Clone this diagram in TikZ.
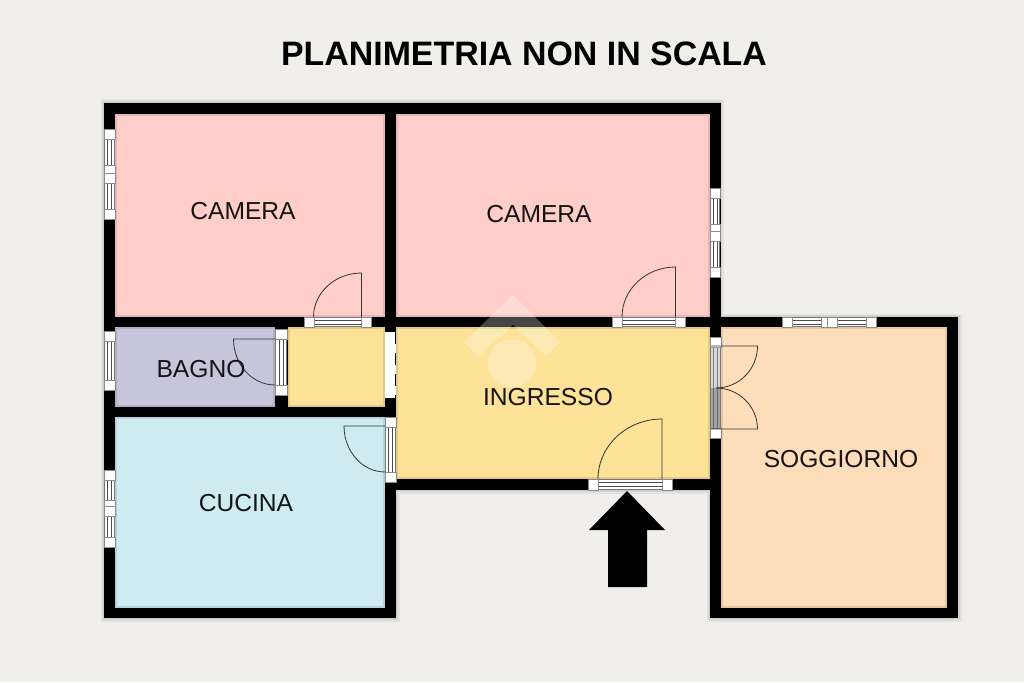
\documentclass[tikz,border=0pt]{standalone}
\usepackage{fontspec}
\setmainfont{Liberation Sans}
\definecolor{bgc}{HTML}{F0EFEB}
\definecolor{pinkc}{HTML}{FFCEC9}
\definecolor{lilac}{HTML}{C6C5DC}
\definecolor{cyanc}{HTML}{CDEBF0}
\definecolor{yellowc}{HTML}{FDE297}
\definecolor{peachc}{HTML}{FEDDBB}
\definecolor{winline}{HTML}{777777}
\tikzset{
  wall/.style={fill=black,draw=none},
  room/.style={draw=black,draw opacity=0.10,line width=3pt},
  wincap/.style={fill=white,draw=black!45,line width=0.5pt},
  sash/.style={draw=winline,line width=0.6pt},
  sashin/.style={draw=black!70,line width=0.7pt},
  leaf/.style={draw=black!80,line width=0.8pt},
  halo/.style={draw=black,draw opacity=0.05},
  roomlabel/.style={font=\fontsize{24.6}{28}\selectfont,text=black!92,inner sep=0pt},
}
\newcommand{\hwin}[4]{%
  \fill[white] (#1,#3) rectangle (#2,#4);
  \draw[sash] (#1,#3+0.5) -- (#2,#3+0.5);
  \draw[sashin] (#1,{(#3+#4)/2-2}) -- (#2,{(#3+#4)/2-2});
  \draw[sashin] (#1,{(#3+#4)/2+2}) -- (#2,{(#3+#4)/2+2});
  \draw[sash] (#1,#4-0.5) -- (#2,#4-0.5);
  \draw[wincap] (#1,#3) rectangle ++(10,#4-#3);
  \draw[wincap] (#2-10,#3) rectangle (#2,#4);
}
\newcommand{\vwin}[4]{%
  \fill[white] (#3,#1) rectangle (#4,#2);
  \draw[sash] (#3+0.5,#1) -- (#3+0.5,#2);
  \draw[sashin] ({(#3+#4)/2-2},#1) -- ({(#3+#4)/2-2},#2);
  \draw[sashin] ({(#3+#4)/2+2},#1) -- ({(#3+#4)/2+2},#2);
  \draw[sash] (#4-0.5,#1) -- (#4-0.5,#2);
  \draw[wincap] (#3,#1) rectangle (#4,#1+10);
  \draw[wincap] (#3,#2-10) rectangle (#4,#2);
}
\begin{document}
\begin{tikzpicture}[x=1pt,y=-1pt]
\useasboundingbox (0,0) rectangle (1024,682);
\fill[bgc] (0,0) rectangle (1024,682);
% soft halo outside the walls
\foreach \w in {7,4,2}{
  \draw[halo,line width=\w pt] (104,103) -- (720,103) -- (720,317) -- (958,317) -- (958,618) -- (710,618) -- (710,490) -- (396,490) -- (396,618) -- (104,618) -- cycle;
}
% rooms
\fill[pinkc] (110,110) rectangle (390,320);
\fill[pinkc] (390,110) rectangle (715,320);
\fill[lilac] (110,322) rectangle (280,412);
\fill[yellowc] (280,322) rectangle (390,412);
\fill[cyanc] (110,412) rectangle (390,612);
\fill[yellowc] (390,322) rectangle (715,485);
\fill[peachc] (715,322) rectangle (952,612);
% soft room edges
\draw[room] (115.5,114.5) rectangle (384.5,316.5);
\draw[room] (396.5,114.5) rectangle (709.5,316.5);
\draw[room] (115.5,327.5) rectangle (274,406.5);
\draw[room] (288.5,327.5) rectangle (384.5,406.5);
\draw[room] (115.5,417.5) rectangle (384.5,607.5);
\draw[room] (396.5,327.5) rectangle (709.5,478.5);
\draw[room] (721.5,327.5) rectangle (946.5,607.5);
% walls
\path[wall] (104,103) rectangle (720,114);
\path[wall] (104,103) rectangle (115,618);
\path[wall] (104,608) rectangle (396,618);
\path[wall] (385,103) rectangle (396,618);
\path[wall] (710,103) rectangle (721,618);
\path[wall] (104,317) rectangle (958,327);
\path[wall] (104,407) rectangle (396,417);
\path[wall] (396,479) rectangle (721,490);
\path[wall] (275,327) rectangle (288,417);
\path[wall] (947,317) rectangle (958,618);
\path[wall] (710,608) rectangle (958,618);
% windows, left
\vwin{129}{175}{104}{115}
\vwin{173}{219}{104}{115}
\vwin{331}{390}{104}{115}
\vwin{470}{510}{104}{115}
\vwin{506}{547}{104}{115}
% windows, right of second bedroom
\vwin{188}{234}{710}{720}
\vwin{231}{277}{710}{720}
% living room window
\hwin{782}{831}{317}{327}
\hwin{827}{876}{317}{327}
% doors
\hwin{304}{371}{317}{327}
\draw[leaf] (361.5,317) -- (361.5,273) arc[start angle=90,end angle=180,x radius=48,y radius=-44];
\hwin{612}{685}{317}{327}
\draw[leaf] (675.5,317) -- (675.5,267) arc[start angle=90,end angle=180,x radius=53.5,y radius=-50];
\hwin{588}{672}{479}{490}
\draw[leaf] (662,479) -- (662,419) arc[start angle=90,end angle=180,x radius=64,y radius=-60];
\vwin{329}{395}{275}{287}
\draw[leaf] (275,339) -- (233.5,339) arc[start angle=180,end angle=270,x radius=41.5,y radius=-46];
\vwin{417}{482}{385}{396}
\draw[leaf] (385,426) -- (344,426) arc[start angle=180,end angle=270,x radius=41,y radius=-46];
% double door
\vwin{337}{438}{710}{721}
\fill[black!30,opacity=0.5] (711,347) rectangle (720,388);
\fill[black!55,opacity=0.65] (711,388) rectangle (720,429);
\draw[leaf] (711,346) -- (757.5,346) arc[start angle=0,end angle=-90,x radius=41.5,y radius=-42];
\draw[leaf] (711,429) -- (757.5,429) arc[start angle=0,end angle=90,x radius=41.5,y radius=-41];
% open passage
\fill[white] (385,332) rectangle (395.5,398);
\draw[black,line width=1pt,dash pattern=on 12pt off 9pt] (395.5,332) -- (395.5,398);
% entrance arrow
\fill[black] (627,491) -- (665,530) -- (647,530) -- (647,587) -- (608,587) -- (608,530) -- (589,530) -- cycle;
% watermark
\fill[white,opacity=0.27] (513,295) -- (560,342) -- (546,356) -- (513,325) -- (478,357) -- (464,342) -- cycle;
\fill[white,opacity=0.27] (512,363) circle[radius=24];
% labels
\node[font=\bfseries\fontsize{33.9}{38}\selectfont,inner sep=0pt] (title) at (524,54) {PLANIMETRIA NON IN SCALA};
\node[roomlabel] (camA) at (243,211) {CAMERA};
\node[roomlabel] (camB) at (539,214) {CAMERA};
\node[roomlabel] (bagno) at (201,369) {BAGNO};
\node[roomlabel] (ingresso) at (548,397) {INGRESSO};
\node[roomlabel] (soggiorno) at (841,459) {SOGGIORNO};
\node[roomlabel] (cucina) at (246,503) {CUCINA};
\end{tikzpicture}
\end{document}
